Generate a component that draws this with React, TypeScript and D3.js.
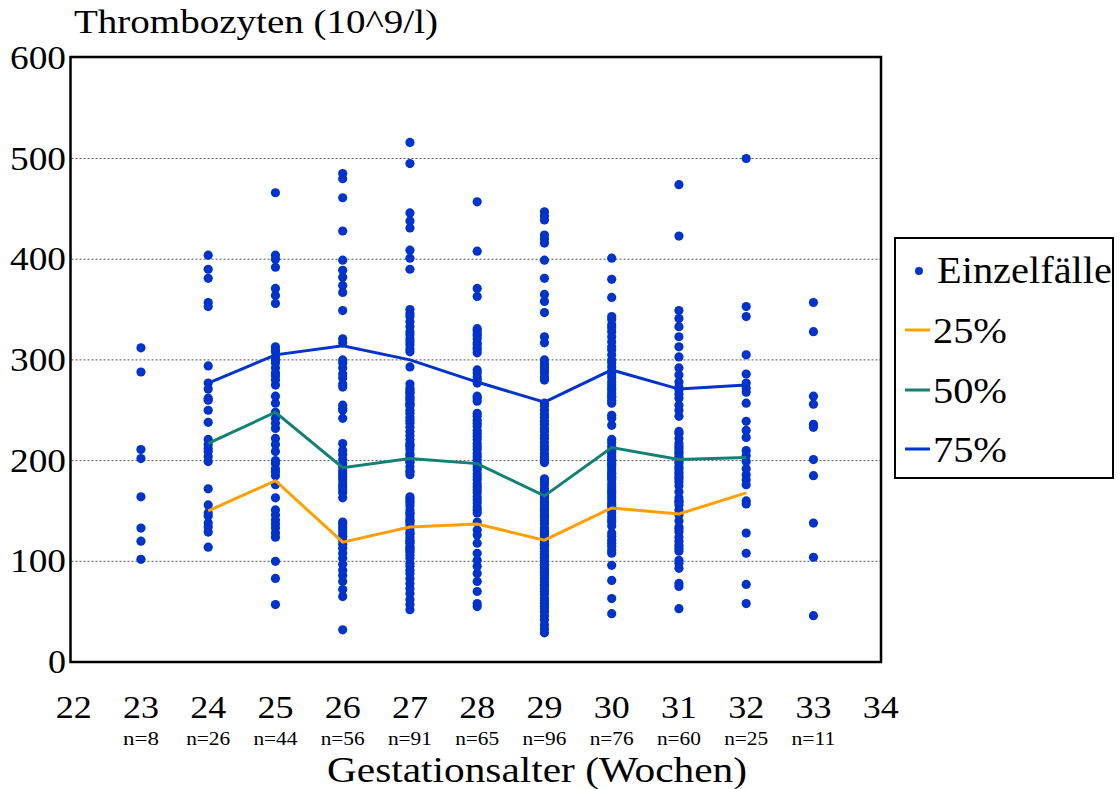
import React from "react";
import * as d3 from "d3";

// Platelet counts per gestational week (10^9/l)
const w23 = [312, 288, 211, 202, 164, 133, 120, 102];
const w24 = [404, 390, 381, 357, 353, 294, 277, 271, 260, 250, 238, 221, 216, 209, 204, 199, 172, 156, 148, 138, 134, 129, 114, 262, 145, 212];
const w25 = [466, 404, 400, 392, 371, 364, 356, 313, 308, 303, 297, 292, 287, 280, 275, 264, 257, 242, 237, 232, 222, 216, 209, 197, 192, 189, 176, 163, 151, 146, 141, 133, 124, 100, 83, 57, 310, 300, 284, 248, 200, 185, 137, 128];
const w26 = [485, 480, 461, 428, 399, 389, 382, 374, 367, 349, 321, 317, 297, 292, 282, 273, 255, 250, 242, 217, 206, 201, 194, 187, 181, 174, 168, 163, 139, 134, 128, 121, 113, 103, 91, 86, 80, 72, 65, 32, 210, 197, 190, 184, 177, 171, 131, 117, 108, 97, 276, 286, 300, 252, 137, 125];
const w27 = [516, 495, 446, 438, 431, 409, 401, 390, 350, 343, 338, 328, 321, 315, 308, 293, 272, 267, 260, 254, 247, 237, 225, 217, 211, 202, 194, 186, 164, 158, 151, 144, 138, 131, 124, 118, 111, 106, 98, 91, 83, 73, 62, 52,
  346, 333, 325, 318, 311, 270, 264, 257, 250, 243, 240, 233, 229, 221, 214, 207, 205, 198, 190, 189, 162, 160, 155, 148, 141, 135, 128, 121, 115, 113, 109, 103, 95, 88, 78, 68, 57, 276, 268, 262, 256, 215, 199, 147, 140, 127, 120];
const w28 = [457, 408, 371, 363, 331, 326, 321, 317, 312, 307, 290, 283, 277, 264, 259, 247, 240, 234, 227, 221, 214, 207, 201, 194, 187, 181, 174, 168, 161, 154, 148, 139, 131, 126, 118, 108, 101, 95, 88, 80, 70, 55,
  329, 324, 315, 310, 287, 280, 262, 244, 237, 230, 224, 217, 211, 204, 197, 191, 184, 177, 171, 164, 158, 151, 58];
const w29 = [447, 439, 424, 416, 399, 381, 365, 358, 347, 323, 317, 300, 293, 287, 283, 257, 250, 239, 232, 225, 214, 207, 201, 182, 176, 169, 163, 156, 149, 143, 133, 126, 120, 113, 100, 93, 86, 80, 73, 67, 58, 50, 37, 29,
  443, 420, 296, 290, 280, 254, 246, 243, 236, 229, 222, 218, 211, 204, 198, 179, 172, 166, 160, 153, 146, 140, 137, 130, 123, 117, 110, 107, 103, 97, 90, 83, 77, 70, 63, 55, 53, 46, 42, 33, 170, 165, 145, 158, 151, 128, 116, 105, 96, 88, 76, 61];
const w30 = [401, 380, 362, 343, 335, 328, 323, 313, 305, 293, 285, 278, 272, 267, 260, 245, 235, 221, 214, 204, 197, 191, 184, 177, 171, 164, 158, 151, 144, 139, 128, 121, 115, 108, 96, 81, 63, 48,
  340, 332, 318, 310, 300, 297, 289, 282, 275, 264, 257, 242, 209, 196, 218, 210, 207, 201, 194, 187, 181, 174, 167, 161, 154, 148, 141, 135, 125, 118, 111, 183, 263, 270, 200, 188, 169, 156];
const w31 = [474, 423, 349, 341, 333, 323, 313, 303, 292, 278, 270, 262, 255, 244, 229, 227, 214, 209, 204, 199, 194, 189, 184, 179, 169, 163, 156, 151, 146, 134, 129, 124, 116, 113, 101, 93, 78, 75, 53,
  285, 273, 266, 250, 222, 217, 212, 207, 202, 197, 192, 187, 182, 175, 159, 140, 132, 120, 110, 98, 160];
const w32 = [500, 353, 343, 305, 286, 277, 268, 257, 239, 230, 223, 205, 199, 186, 181, 176, 157, 128, 108, 77, 58, 272, 210, 160, 192];
const w33 = [357, 328, 264, 256, 236, 233, 201, 185, 138, 104, 46];

const weeks = [23, 24, 25, 26, 27, 28, 29, 30, 31, 32, 33];
const caseValues = [w23, w24, w25, w26, w27, w28, w29, w30, w31, w32, w33];
const caseCounts = ["n=8", "n=26", "n=44", "n=56", "n=91", "n=65", "n=96", "n=76", "n=60", "n=25", "n=11"];

// Percentile curves, weeks 24–32
const pctWeeks = [24, 25, 26, 27, 28, 29, 30, 31, 32];
const p25 = [150, 180, 119, 134, 137, 121, 153, 147, 168];
const p50 = [217, 248, 193, 202, 197, 165, 213, 201, 203];
const p75 = [277, 305, 314, 300, 278, 258, 290, 271, 275];

const xTicks = [22, 23, 24, 25, 26, 27, 28, 29, 30, 31, 32, 33, 34];
const yTicks = [0, 100, 200, 300, 400, 500, 600];
const gridValues = [100, 200, 300, 400, 500];

const BLUE = "#0033cc";
const TEAL = "#138075";
const ORANGE = "#ffa000";
const FONT = "Liberation Serif";

const W = 1120;
const H = 789;
const frame = { left: 70.5, right: 881, top: 57, bottom: 662 };

export default function App() {
  const x = d3.scaleLinear().domain([22, 34]).range([73.7, 880.7]);
  const y = d3.scaleLinear().domain([0, 600]).range([662, 57.8]);

  const line = d3
    .line<number>()
    .x((_, i) => x(pctWeeks[i]))
    .y((d) => y(d));

  const points: { wk: number; v: number }[] = [];
  caseValues.forEach((vals, i) => vals.forEach((v) => points.push({ wk: weeks[i], v })));

  const legendRows = [
    { label: "25%", color: ORANGE, y: 330, base: 343 },
    { label: "50%", color: TEAL, y: 390, base: 403 },
    { label: "75%", color: BLUE, y: 449, base: 462 },
  ];

  return (
    <svg
      width={W}
      height={H}
      fontFamily={FONT}
      style={{ position: "absolute", left: 0, top: 0, background: "#fff" }}
    >
      <rect x={0} y={0} width={W} height={H} fill="#fff" />

      {/* dotted horizontal grid */}
      {gridValues.map((g) => (
        <line
          key={g}
          x1={frame.left + 1}
          x2={frame.right - 1}
          y1={y(g)}
          y2={y(g)}
          stroke="#555"
          strokeWidth={1}
          strokeDasharray="2,2"
        />
      ))}

      {/* individual cases */}
      {points.map((p, i) => (
        <circle key={i} cx={x(p.wk)} cy={y(p.v)} r={4.6} fill={BLUE} />
      ))}

      {/* percentile curves */}
      <path d={line(p25) ?? ""} fill="none" stroke={ORANGE} strokeWidth={3} />
      <path d={line(p50) ?? ""} fill="none" stroke={TEAL} strokeWidth={3} />
      <path d={line(p75) ?? ""} fill="none" stroke={BLUE} strokeWidth={3} />

      {/* plot frame */}
      <rect
        x={frame.left}
        y={frame.top}
        width={frame.right - frame.left}
        height={frame.bottom - frame.top}
        fill="none"
        stroke="#000"
        strokeWidth={2.5}
      />

      {/* y axis labels */}
      {yTicks.map((t) => (
        <text
          key={t}
          x={66}
          y={y(t) + 11}
          fontFamily={FONT}
          fontSize={33}
          textAnchor="end"
          textLength={t === 0 ? 18 : 56}
          lengthAdjust="spacingAndGlyphs"
          fill="#000"
        >
          {t}
        </text>
      ))}

      {/* title */}
      <text x={74} y={33} fontFamily={FONT} fontSize={33} textLength={364} lengthAdjust="spacingAndGlyphs" fill="#000">
        Thrombozyten (10^9/l)
      </text>

      {/* x axis labels */}
      {xTicks.map((t) => (
        <text
          key={t}
          x={x(t)}
          y={718}
          fontFamily={FONT}
          fontSize={31}
          textAnchor="middle"
          textLength={36}
          lengthAdjust="spacingAndGlyphs"
          fill="#000"
        >
          {t}
        </text>
      ))}

      {/* case counts */}
      {caseCounts.map((c, i) => (
        <text
          key={c}
          x={x(weeks[i])}
          y={745}
          fontFamily={FONT}
          fontSize={19}
          textAnchor="middle"
          textLength={c.length === 3 ? 36 : 44}
          lengthAdjust="spacingAndGlyphs"
          fill="#000"
        >
          {c}
        </text>
      ))}

      <text x={327} y={782} fontFamily={FONT} fontSize={35} textLength={420} lengthAdjust="spacingAndGlyphs" fill="#000">
        Gestationsalter (Wochen)
      </text>

      {/* legend */}
      <rect x={895} y={238} width={218} height={240} fill="#fff" stroke="#000" strokeWidth={2} />
      <circle cx={919} cy={271} r={4} fill={BLUE} />
      <text x={937} y={283} fontFamily={FONT} fontSize={37} textLength={175} lengthAdjust="spacingAndGlyphs" fill="#000">
        Einzelfälle
      </text>
      {legendRows.map((r) => (
        <g key={r.label}>
          <line x1={905} x2={930} y1={r.y} y2={r.y} stroke={r.color} strokeWidth={3} />
          <text x={933} y={r.base} fontFamily={FONT} fontSize={35} textLength={74} lengthAdjust="spacingAndGlyphs" fill="#000">
            {r.label}
          </text>
        </g>
      ))}
    </svg>
  );
}
